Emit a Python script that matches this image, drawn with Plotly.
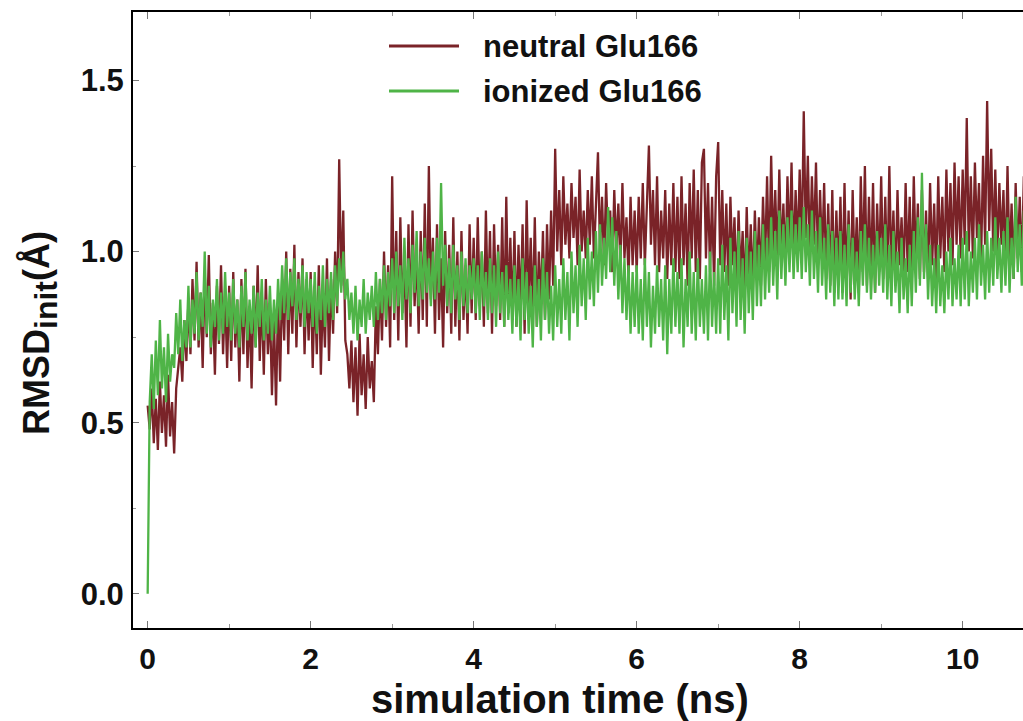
import plotly.graph_objects as go

dt = 0.025
series_names = ["neutral Glu166", "ionized Glu166"]
series_colors = ["#7A2328", "#4FB447"]

neutral = [
    0.55, 0.48, 0.60, 0.44, 0.57, 0.42, 0.62, 0.47, 0.58, 0.43, 0.64, 0.46, 0.56, 0.41, 0.60, 0.66, 0.72, 0.62, 0.80, 0.68,
    0.86, 0.70, 0.92, 0.74, 0.97, 0.72, 0.88, 0.66, 0.94, 0.75, 0.99, 0.70, 0.85, 0.64, 0.90, 0.73, 0.96, 0.70, 0.88, 0.66,
    0.90, 0.68, 0.94, 0.72, 0.86, 0.62, 0.92, 0.70, 0.95, 0.66, 0.84, 0.60, 0.90, 0.72, 0.96, 0.68, 0.88, 0.64, 0.92, 0.70,
    0.84, 0.58, 0.80, 0.55, 0.86, 0.62, 0.92, 0.74, 1.00, 0.70, 0.95, 0.76, 1.02, 0.72, 0.94, 0.78, 0.98, 0.70, 0.92, 0.74,
    0.94, 0.66, 0.90, 0.70, 0.96, 0.64, 0.88, 0.72, 0.98, 0.68, 0.92, 0.76, 1.00, 0.82, 1.27, 0.90, 1.12, 0.74, 0.70, 0.60,
    0.74, 0.56, 0.72, 0.52, 0.76, 0.58, 0.70, 0.54, 0.75, 0.60, 0.68, 0.56, 0.84, 0.70, 0.92, 0.74, 1.00, 0.78, 0.96, 0.72,
    1.22, 0.80, 1.06, 0.74, 1.10, 0.82, 0.98, 0.72, 1.08, 0.78, 1.12, 0.84, 1.00, 0.76, 1.06, 0.80, 1.14, 0.78, 1.25, 0.86,
    1.04, 0.76, 1.08, 0.80, 0.98, 0.72, 1.06, 0.82, 1.02, 0.76, 1.10, 0.78, 1.00, 0.74, 1.06, 0.80, 0.96, 0.76, 1.08, 0.82,
    1.04, 0.80, 1.10, 0.84, 1.00, 0.78, 1.12, 0.82, 1.06, 0.76, 1.08, 0.84, 1.02, 0.80, 1.10, 0.78, 1.16, 0.82, 1.04, 0.80,
    1.06, 0.78, 1.02, 0.82, 1.08, 0.76, 1.15, 0.84, 1.04, 0.80, 1.10, 0.78, 1.00, 0.84, 1.06, 0.80, 1.08, 0.86, 1.12, 0.90,
    1.30, 1.00, 1.18, 0.96, 1.22, 1.02, 1.14, 0.98, 1.20, 1.04, 1.16, 0.96, 1.24, 1.00, 1.12, 0.98, 1.18, 1.02, 1.22, 0.98,
    1.14, 1.29, 1.00, 1.16, 0.96, 1.20, 1.02, 1.12, 0.94, 1.18, 1.00, 1.14, 0.96, 1.20, 0.98, 1.10, 0.92, 1.16, 0.96, 1.12,
    0.94, 1.16, 0.98, 1.20, 0.96, 1.14, 1.31, 1.02, 1.18, 0.96, 1.22, 0.94, 1.12, 0.98, 1.18, 0.92, 1.14, 0.96, 1.20, 0.94,
    1.16, 0.92, 1.22, 0.96, 1.14, 0.90, 1.20, 0.98, 1.24, 0.94, 1.18, 0.92, 1.26, 1.30, 0.98, 1.20, 0.94, 1.16, 0.90, 1.22,
    1.32, 0.96, 1.18, 0.94, 1.14, 0.90, 1.16, 0.96, 1.10, 0.88, 1.12, 0.92, 1.06, 0.86, 1.13, 0.90, 1.08, 0.88, 1.12, 0.92,
    1.10, 0.90, 1.16, 0.96, 1.22, 0.94, 1.28, 1.00, 1.18, 0.96, 1.24, 0.98, 1.14, 0.94, 1.22, 1.00, 1.26, 0.96, 1.18, 1.00,
    1.24, 1.00, 1.41, 1.04, 1.28, 0.98, 1.22, 1.02, 1.26, 0.96, 1.18, 0.98, 1.20, 0.92, 1.14, 0.90, 1.18, 0.88, 1.12, 0.92,
    1.16, 0.88, 1.20, 0.90, 1.12, 0.86, 1.18, 0.92, 1.10, 0.88, 1.22, 0.94, 1.25, 0.90, 1.16, 0.92, 1.20, 0.88, 1.14, 0.94,
    1.22, 0.92, 1.16, 0.90, 1.25, 0.94, 1.12, 0.90, 1.18, 0.96, 1.10, 0.92, 1.20, 0.94, 1.16, 0.90, 1.22, 0.96, 1.14, 0.92,
    1.18, 0.94, 1.12, 0.92, 1.20, 0.96, 1.14, 0.92, 1.22, 0.98, 1.16, 0.94, 1.24, 1.00, 1.20, 0.96, 1.26, 1.02, 1.22, 0.98,
    1.24, 1.02, 1.39, 1.00, 1.22, 0.98, 1.26, 1.04, 1.20, 0.96, 1.28, 1.02, 1.44, 1.06, 1.30, 1.00, 1.24, 0.98, 1.20, 1.02,
    1.18, 0.94, 1.25, 0.96, 1.14, 0.92, 1.20, 0.98, 1.16, 0.94, 1.22, 1.04,
]

ionized = [
    0.00, 0.56, 0.70, 0.54, 0.74, 0.58, 0.80, 0.60, 0.72, 0.56, 0.76, 0.62, 0.70, 0.66, 0.82, 0.70, 0.86, 0.68, 0.80, 0.72,
    0.90, 0.72, 0.86, 0.76, 0.94, 0.74, 0.88, 0.78, 1.00, 0.76, 0.90, 0.72, 0.86, 0.78, 0.92, 0.74, 0.88, 0.76, 0.94, 0.78,
    0.88, 0.74, 0.92, 0.76, 0.86, 0.72, 0.90, 0.78, 0.94, 0.74, 0.86, 0.76, 0.90, 0.72, 0.88, 0.78, 0.92, 0.74, 0.86, 0.76,
    0.90, 0.74, 0.86, 0.76, 0.92, 0.80, 0.96, 0.82, 0.98, 0.80, 0.94, 0.84, 0.98, 0.80, 0.92, 0.82, 0.96, 0.78, 0.94, 0.82,
    0.92, 0.78, 0.94, 0.76, 0.90, 0.80, 0.96, 0.78, 0.92, 0.82, 0.94, 0.80, 0.96, 0.84, 0.98, 0.88, 1.00, 0.86, 0.92, 0.80,
    0.88, 0.76, 0.90, 0.74, 0.86, 0.78, 0.92, 0.76, 0.88, 0.80, 0.90, 0.78, 0.94, 0.80, 0.92, 0.82, 0.96, 0.80, 0.94, 0.84,
    0.98, 0.82, 1.00, 0.84, 0.96, 0.80, 1.04, 0.86, 0.98, 0.82, 1.02, 0.88, 1.06, 0.84, 1.00, 0.86, 1.04, 0.88, 0.98, 0.84,
    1.00, 0.86, 1.04, 0.88, 1.20, 0.90, 1.02, 0.84, 0.98, 0.82, 1.02, 0.86, 0.96, 0.80, 1.00, 0.84, 0.98, 0.82, 0.96, 0.86,
    0.98, 0.82, 0.96, 0.80, 1.00, 0.84, 0.94, 0.80, 0.98, 0.82, 0.96, 0.78, 1.00, 0.82, 0.94, 0.78, 0.96, 0.80, 0.92, 0.76,
    0.96, 0.78, 0.92, 0.74, 0.98, 0.80, 0.94, 0.76, 0.90, 0.72, 0.96, 0.78, 0.92, 0.74, 0.98, 0.80, 0.94, 0.76, 0.90, 0.74,
    0.96, 0.78, 0.92, 0.76, 0.98, 0.80, 0.94, 0.74, 1.00, 0.82, 0.96, 0.78, 1.02, 0.84, 0.98, 0.80, 1.04, 0.86, 1.00, 0.84,
    1.06, 0.88, 1.08, 0.90, 1.04, 0.92, 1.13, 0.94, 1.10, 0.90, 1.06, 0.86, 1.02, 0.82, 0.98, 0.80, 0.96, 0.76, 0.94, 0.78,
    0.96, 0.76, 0.92, 0.74, 0.98, 0.78, 0.94, 0.72, 0.90, 0.76, 0.96, 0.78, 0.92, 0.74, 0.96, 0.70, 0.92, 0.76, 0.98, 0.78,
    0.94, 0.76, 0.98, 0.72, 0.92, 0.78, 1.00, 0.76, 0.94, 0.74, 0.98, 0.78, 0.92, 0.76, 0.96, 0.74, 1.00, 0.78, 0.94, 0.76,
    0.98, 0.76, 1.02, 0.80, 0.96, 0.74, 1.04, 0.82, 1.00, 0.78, 1.06, 0.80, 0.98, 0.76, 1.04, 0.82, 1.00, 0.80, 1.06, 0.84,
    1.02, 0.84, 1.08, 0.86, 1.04, 0.88, 1.10, 0.90, 1.06, 0.86, 1.12, 0.92, 1.08, 0.90, 1.10, 0.94, 1.12, 0.92, 1.08, 0.94,
    1.10, 0.92, 1.13, 0.94, 1.08, 0.90, 1.12, 0.92, 1.06, 0.88, 1.10, 0.90, 1.04, 0.86, 1.08, 0.88, 1.06, 0.84, 1.04, 0.86,
    1.06, 0.86, 1.02, 0.84, 1.08, 0.88, 1.04, 0.86, 1.00, 0.84, 1.06, 0.90, 1.08, 0.88, 1.04, 0.86, 1.02, 0.88, 1.06, 0.90,
    1.04, 0.88, 1.08, 0.86, 1.02, 0.84, 1.06, 0.88, 1.00, 0.82, 1.04, 0.86, 0.98, 0.82, 1.02, 0.84, 1.06, 0.88, 1.10, 0.90,
    1.23, 0.92, 1.08, 0.86, 1.02, 0.84, 0.98, 0.82, 1.02, 0.84, 0.96, 0.82, 1.00, 0.86, 1.04, 0.84, 0.98, 0.86, 1.02, 0.84,
    1.04, 0.86, 1.06, 0.84, 1.00, 0.88, 1.04, 0.86, 1.08, 0.90, 1.02, 0.86, 1.06, 0.88, 1.04, 0.90, 1.10, 0.92, 1.04, 0.88,
    1.06, 0.90, 1.10, 0.88, 1.04, 0.92, 1.16, 0.94, 1.08, 0.90, 1.12, 0.96,
]

x_ticks = [0, 2, 4, 6, 8, 10]
y_ticks = [0.0, 0.5, 1.0, 1.5]
y_tick_labels = ["0.0", "0.5", "1.0", "1.5"]

t_neutral = [i * dt for i in range(len(neutral))]
t_ionized = [i * dt for i in range(len(ionized))]

fig = go.Figure()
for name, t, v, c in zip(series_names, [t_neutral, t_ionized], [neutral, ionized], series_colors):
    fig.add_trace(go.Scatter(x=t, y=v, mode="lines", name=name,
                             line=dict(color=c, width=2.3), showlegend=False))

font = "Liberation Sans, Arial, sans-serif"

# plot area wanted at screen x 133..1023, y 12..628 (page margin removed below)
PL, PT, PW, PH = 133, 12, 890, 616
W, H = 1023, 721

fig.update_layout(
    width=W, height=H,
    margin=dict(l=PL, r=W - PL - PW, t=PT, b=H - PT - PH),
    paper_bgcolor="white", plot_bgcolor="white",
    xaxis=dict(
        range=[-0.18, 10.74], tickvals=x_ticks, ticktext=[str(v) for v in x_ticks],
        ticks="inside", ticklen=7, tickwidth=1, tickcolor="#777",
        showline=True, linecolor="black", linewidth=2, mirror="ticks",
        showgrid=False, zeroline=False,
        minor=dict(dtick=1, ticks="inside", ticklen=4, tickcolor="#999", showgrid=False),
        tickfont=dict(family=font, size=30, color="#111", weight="bold"),
        ticklabelstandoff=3,
    ),
    yaxis=dict(
        range=[-0.1, 1.70], tickvals=y_ticks, ticktext=y_tick_labels,
        ticks="inside", ticklen=6, tickwidth=1, tickcolor="#777",
        showline=True, linecolor="black", linewidth=2, mirror=False,
        showgrid=False, zeroline=False,
        minor=dict(dtick=0.25, ticks="inside", ticklen=3, tickcolor="#999", showgrid=False),
        tickfont=dict(family=font, size=31, color="#111", weight="bold"),
        ticklabelstandoff=1,
    ),
)

def px(xs):
    return (xs - PL) / PW

def py(ys):
    return (PT + PH - ys) / PH

# axis titles
fig.add_annotation(text="simulation time (ns)", xref="paper", yref="paper",
                   x=px(560), y=py(699), showarrow=False,
                   xanchor="center", yanchor="middle",
                   font=dict(family=font, size=40, color="#111", weight="bold"))
fig.add_annotation(text="RMSD<sub><span style='font-size:32px'>init</span></sub>(Å)",
                   xref="paper", yref="paper",
                   x=px(40), y=py(333), showarrow=False,
                   textangle=-90, xanchor="center", yanchor="middle",
                   font=dict(family=font, size=36, color="#111", weight="bold"))

# legend drawn manually
legend_y_px = [46, 91]
for name, c, ypx in zip(series_names, series_colors, legend_y_px):
    fig.add_shape(type="line", xref="paper", yref="paper",
                  x0=px(389), x1=px(459), y0=py(ypx), y1=py(ypx),
                  line=dict(color=c, width=3))
    fig.add_annotation(text=name, xref="paper", yref="paper",
                       x=px(481), y=py(ypx), showarrow=False,
                       xanchor="left", yanchor="middle",
                       font=dict(family=font, size=31, color="#111", weight="bold"))

fig.write_html(
    "out.html",
    config={"displayModeBar": False},
    post_script="document.body.style.margin='0';document.body.style.overflow='hidden';",
)
